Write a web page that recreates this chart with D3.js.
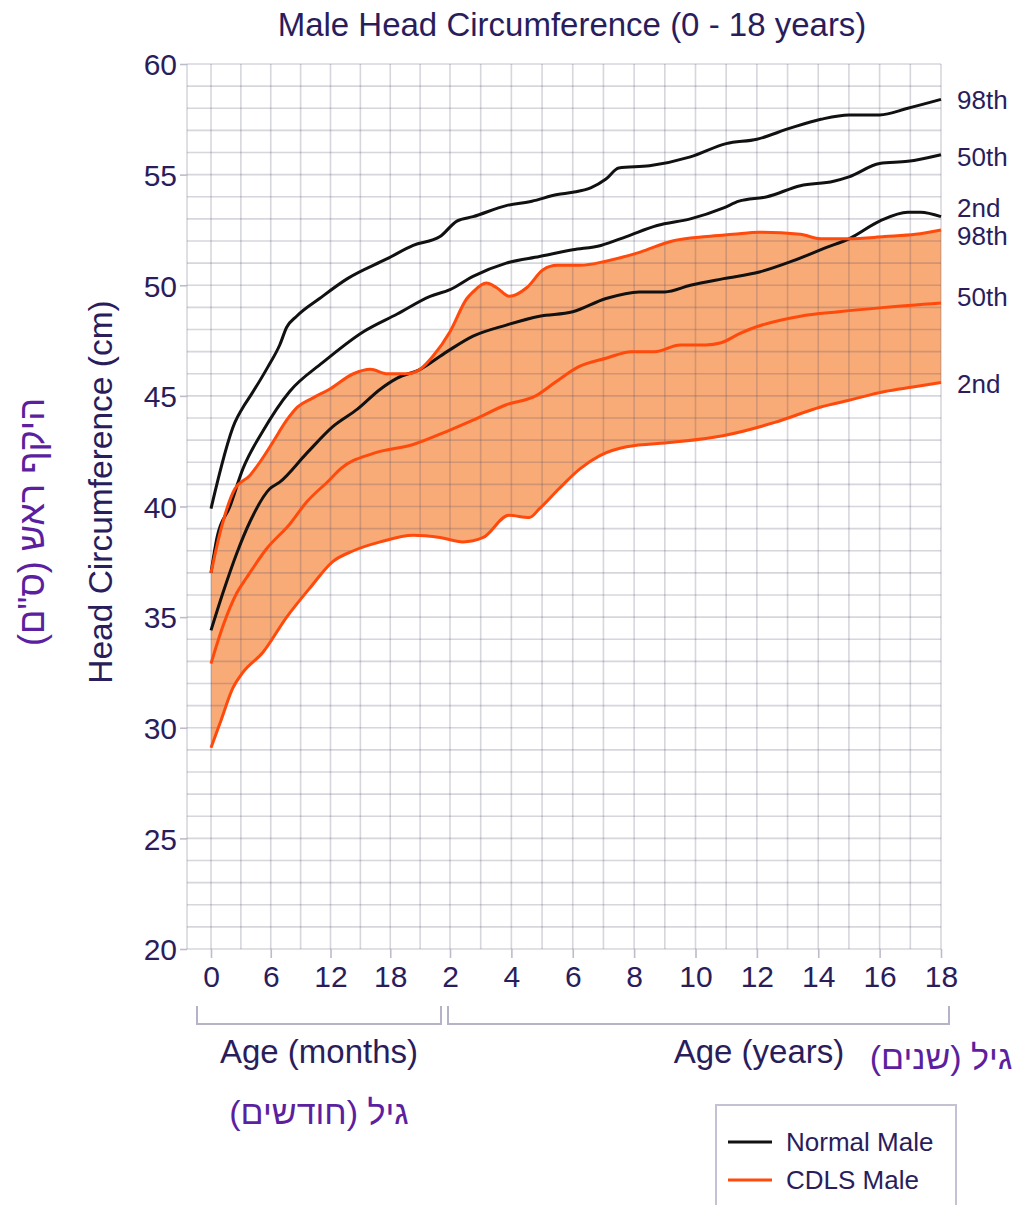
<!DOCTYPE html>
<html>
<head>
<meta charset="utf-8">
<script src="https://cdn.jsdelivr.net/npm/d3@7"></script>
<style>
  body { margin: 0; background: #fff; }
  text { font-family: "Liberation Sans", Arial, sans-serif; }
</style>
</head>
<body>
<div id="chart"></div>
<script>
// ages are in months (0 - 216), head circumference in cm
var normal98 = [[0,39.9],[2.4,43.8],[3.1,44.4],[4.1,45.1],[5.7,46.3],[6.9,47.3],[7.6,48.1],[8.6,48.6],[10.9,49.4],[13.7,50.3],[17.7,51.2],[20.3,51.8],[23,52.2],[26.7,52.9],[33,53.1],[46,53.6],[56,53.8],[66,54.1],[72,54.2],[79,54.4],[85,54.8],[90,55.3],[102,55.4],[118,55.8],[132,56.4],[144,56.6],[157,57.1],[169,57.5],[180,57.7],[192,57.7],[203,58.0],[216,58.4]];
var normal50 = [[0,37.0],[0.6,38.6],[1.9,40.0],[3.2,41.7],[5.2,43.4],[7.9,45.2],[11.2,46.5],[15.3,47.9],[18.7,48.7],[22,49.5],[24,49.8],[33,50.4],[46,51.0],[59,51.3],[72,51.6],[83,51.8],[93,52.2],[105,52.7],[118,53.0],[131,53.5],[137,53.8],[148,54.0],[161,54.5],[174,54.7],[180,54.9],[192,55.5],[203,55.6],[216,55.9]];
var normal2 = [[0,34.4],[1.2,36.1],[2.6,37.9],[3.9,39.3],[5.9,40.8],[6.9,41.1],[9.6,42.4],[12.2,43.6],[14.7,44.4],[17,45.3],[18.7,45.8],[21,46.2],[23.7,47.0],[33,47.7],[46,48.2],[59,48.6],[72,48.8],[85,49.4],[98,49.7],[108,49.7],[118,50.0],[131,50.3],[145,50.6],[158,51.1],[171,51.7],[180,52.1],[192,52.9],[203,53.3],[208,53.3],[216,53.1]];

var cdls98 = [[0,37.0],[0.9,38.8],[2.4,40.8],[3.9,41.4],[4.9,42.0],[6.2,42.9],[7.6,43.9],[8.7,44.5],[10.2,44.9],[11.9,45.3],[14.3,46.0],[16,46.2],[17.7,46.0],[19.7,46.0],[21,46.2],[22.3,46.8],[24,47.9],[30.6,49.4],[33,49.7],[38.2,50.1],[42.1,49.9],[47.2,49.5],[54.1,49.9],[60.4,50.7],[65.8,50.9],[74.9,50.9],[85.4,51.1],[98.4,51.5],[111,52.0],[124.5,52.2],[134.7,52.3],[145,52.4],[161,52.3],[169,52.1],[180,52.1],[194,52.2],[206,52.3],[216,52.5]];
var cdls50 = [[0,32.9],[1.2,34.6],[2.6,36.1],[3.6,36.8],[5.6,38.1],[7.9,39.2],[9.6,40.2],[11.9,41.2],[13,41.7],[16.3,42.4],[20.3,42.8],[23.7,43.4],[33,43.9],[46,44.6],[57.5,45.0],[65,45.6],[74,46.3],[85,46.7],[95,47.0],[104,47.0],[114,47.3],[124,47.3],[130,47.4],[137,47.8],[141,48.0],[161,48.6],[176,48.8],[194,49.0],[216,49.2]];
var cdls2 = [[0,29.1],[0.9,30.2],[2.2,31.8],[3.2,32.5],[5.2,33.4],[7.6,35.0],[9.9,36.3],[12.2,37.5],[14.3,38.0],[17,38.4],[20.3,38.7],[23,38.6],[29,38.4],[37,38.6],[47,39.6],[55,39.5],[59,39.9],[66.6,40.8],[74.8,41.7],[82.6,42.3],[93,42.7],[111,42.9],[130.7,43.2],[151,43.8],[169,44.5],[180,44.8],[194,45.2],[205,45.4],[216,45.6]];

var xTickValues = [0, 6, 12, 18, 24, 48, 72, 96, 120, 144, 168, 192, 216];  // months
var yTickValues = [20, 25, 30, 35, 40, 45, 50, 55, 60];
var endLabels = ["98th", "50th", "2nd", "98th", "50th", "2nd"];

var navy = "#2a1d5c", purple = "#5b1f9f", orange = "#ff4a0c";

var svg = d3.select("#chart").append("svg")
    .attr("width", 1018)
    .attr("height", 1205);

// months 0-24 and years 2-18 share one axis but at different scales
var x = d3.scaleLinear().domain([0, 24, 216]).range([211, 450, 941]);
var y = d3.scaleLinear().domain([20, 60]).range([949, 64]);
var left = x(0) - 24;

var line = d3.line()
    .x(function(d) { return x(d[0]); })
    .y(function(d) { return y(d[1]); })
    .curve(d3.curveMonotoneX);

// CDLS band between 98th and 2nd
var band = line(cdls98) + line(cdls2.slice().reverse()).replace(/^M/, "L") + "Z";
svg.append("path")
    .attr("d", band)
    .attr("fill", "#f9ab77");

// grid on top of the band
var grid = svg.append("g")
    .attr("stroke", "rgba(70,70,100,0.22)")
    .attr("stroke-width", 1.6);

grid.selectAll(".h").data(d3.range(20, 61))
  .enter().append("line")
    .attr("x1", left).attr("x2", x(216))
    .attr("y1", function(d) { return y(d); })
    .attr("y2", function(d) { return y(d); });

var vlines = d3.range(0, 25, 3).concat(d3.range(36, 217, 12));
grid.selectAll(".v").data(vlines)
  .enter().append("line")
    .attr("x1", function(d) { return x(d); })
    .attr("x2", function(d) { return x(d); })
    .attr("y1", y(60)).attr("y2", y(20));

grid.append("line")
    .attr("x1", left).attr("x2", left)
    .attr("y1", y(60)).attr("y2", y(20));

// axes
var xAxis = svg.append("g")
    .attr("transform", "translate(0," + y(20) + ")")
    .call(d3.axisBottom(x)
      .tickValues(xTickValues)
      .tickSize(9)
      .tickPadding(8)
      .tickFormat(function(d) { return d < 24 ? d : d / 12; }));

var yAxis = svg.append("g")
    .attr("transform", "translate(" + left + ",0)")
    .call(d3.axisLeft(y)
      .tickValues(yTickValues)
      .tickSize(7)
      .tickPadding(3));

[xAxis, yAxis].forEach(function(a) {
  a.select(".domain").remove();
  a.selectAll(".tick line").attr("stroke", "#bcbccb").attr("stroke-width", 1.6);
  a.selectAll(".tick text")
    .attr("fill", navy)
    .style("font-size", "30px")
    .style("font-family", "'Liberation Sans', Arial, sans-serif");
});
yAxis.selectAll(".tick text").attr("dy", "0.36em");

// curves
var series = [
  {data: normal98, color: "#111"},
  {data: normal50, color: "#111"},
  {data: normal2, color: "#111"},
  {data: cdls98, color: orange},
  {data: cdls50, color: orange},
  {data: cdls2, color: orange}
];

svg.selectAll(".curve").data(series)
  .enter().append("path")
    .attr("class", "curve")
    .attr("d", function(d) { return line(d.data); })
    .attr("fill", "none")
    .attr("stroke", function(d) { return d.color; })
    .attr("stroke-width", 3);

// percentile labels at the right end
var labelShift = [0, 2, -9, 6, -6, 1];
svg.selectAll(".endlabel").data(series)
  .enter().append("text")
    .attr("x", x(216) + 16)
    .attr("y", function(d, i) { return y(d.data[d.data.length - 1][1]) + labelShift[i]; })
    .attr("dy", "0.36em")
    .attr("fill", navy)
    .style("font-size", "26px")
    .text(function(d, i) { return endLabels[i]; });

// titles
svg.append("text")
    .attr("x", 572).attr("y", 36)
    .attr("text-anchor", "middle")
    .attr("fill", navy)
    .style("font-size", "33px")
    .text("Male Head Circumference (0 - 18 years)");

svg.append("text")
    .attr("transform", "translate(112,492) rotate(-90)")
    .attr("text-anchor", "middle")
    .attr("fill", navy)
    .style("font-size", "33.5px")
    .text("Head Circumference (cm)");

svg.append("text")
    .attr("transform", "translate(44,522) rotate(-90)")
    .attr("text-anchor", "middle")
    .attr("direction", "rtl")
    .attr("fill", purple)
    .style("font-size", "36px")
    .text("היקף ראש (ס\"ם)");

// brackets under the axis
var brackets = [[x(0) - 14, x(24) - 9], [x(24) - 2, x(216) + 8]];
svg.selectAll(".bracket").data(brackets)
  .enter().append("path")
    .attr("d", function(d) { return "M" + d[0] + ",1006V1024H" + d[1] + "V1006"; })
    .attr("fill", "none")
    .attr("stroke", "#b4b4c6")
    .attr("stroke-width", 2);

svg.append("text")
    .attr("x", 319).attr("y", 1063)
    .attr("text-anchor", "middle")
    .attr("fill", navy)
    .style("font-size", "33px")
    .text("Age (months)");

svg.append("text")
    .attr("x", 759).attr("y", 1063)
    .attr("text-anchor", "middle")
    .attr("fill", navy)
    .style("font-size", "33px")
    .text("Age (years)");

svg.append("text")
    .attr("x", 941).attr("y", 1069)
    .attr("text-anchor", "middle")
    .attr("direction", "rtl")
    .attr("fill", purple)
    .style("font-size", "34px")
    .text("גיל (שנים)");

svg.append("text")
    .attr("x", 319).attr("y", 1124)
    .attr("text-anchor", "middle")
    .attr("direction", "rtl")
    .attr("fill", purple)
    .style("font-size", "34px")
    .text("גיל (חודשים)");

// legend
var legend = svg.append("g");
legend.append("rect")
    .attr("x", 716).attr("y", 1105)
    .attr("width", 240).attr("height", 130)
    .attr("fill", "#fff")
    .attr("stroke", "#c2c2d4")
    .attr("stroke-width", 2);

var legendItems = [["Normal Male", "#111"], ["CDLS Male", orange]];
legendItems.forEach(function(d, i) {
  var ly = 1142 + i * 38;
  legend.append("line")
      .attr("x1", 728).attr("x2", 772)
      .attr("y1", ly).attr("y2", ly)
      .attr("stroke", d[1])
      .attr("stroke-width", 3);
  legend.append("text")
      .attr("x", 786).attr("y", ly)
      .attr("dy", "0.36em")
      .attr("fill", navy)
      .style("font-size", "26px")
      .text(d[0]);
});
</script>
</body>
</html>
